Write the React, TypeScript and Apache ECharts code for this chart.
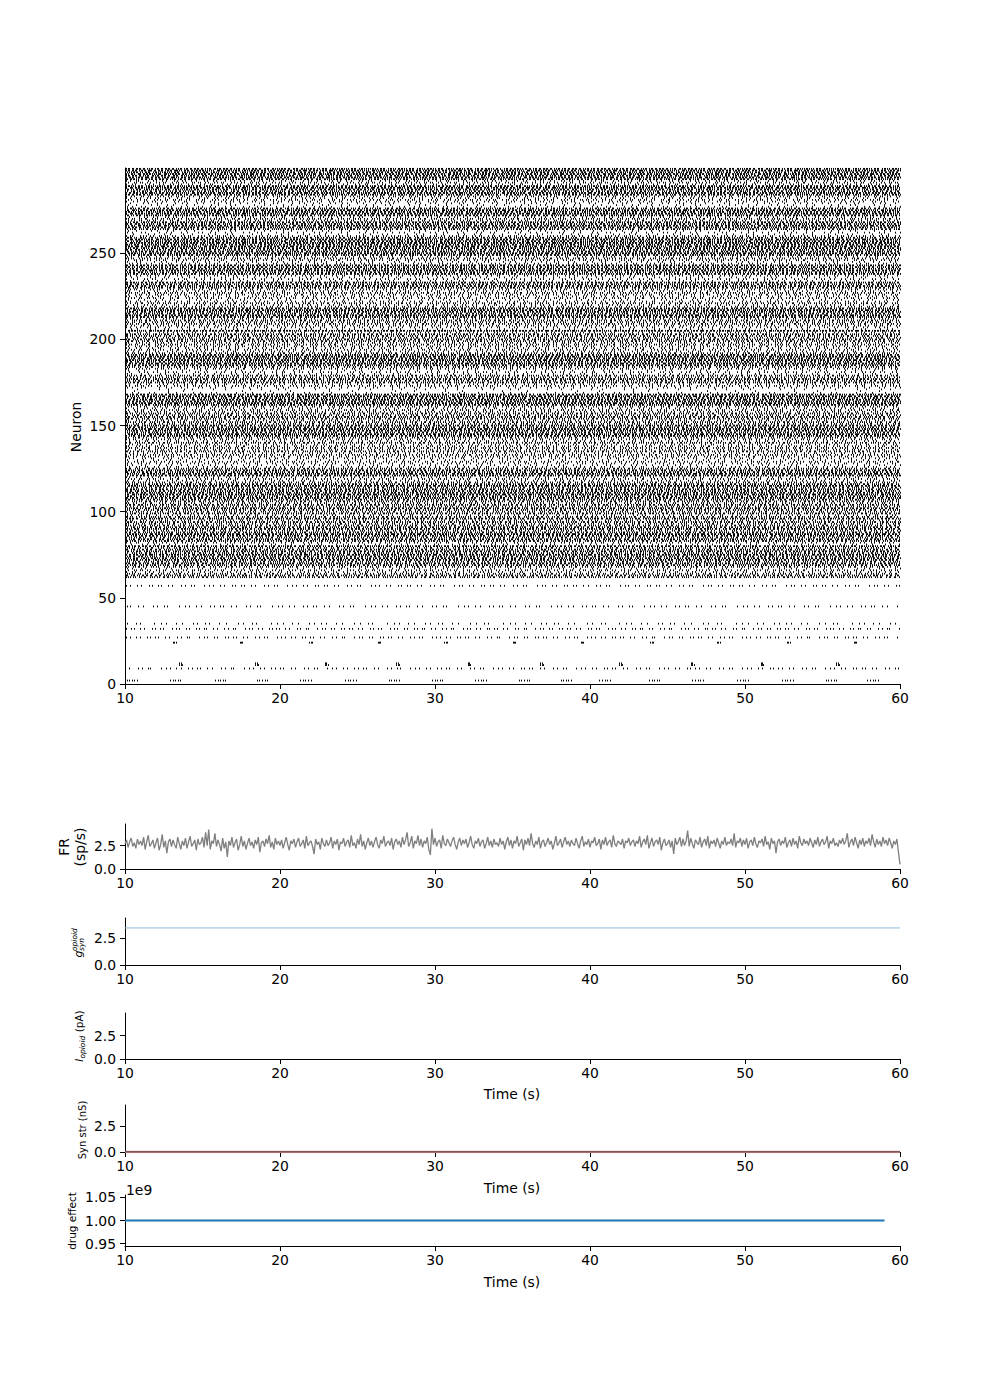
import React, { useEffect, useRef } from "react";
import * as echarts from "echarts";

const FONT = "DejaVu Sans";
const T_MIN = 10;
const T_MAX = 60;
const X_TICKS = [10, 20, 30, 40, 50, 60];
const NEURON_TICKS = [0, 50, 100, 150, 200, 250];
const PANEL_TICKS = [0, 2.5];
const DRUG_TICKS = [0.95e9, 1.0e9, 1.05e9];

// Estimated mean firing rate (Hz) of each neuron row, read from the raster density.
const RATES: number[] = [
  0, 0, 0, 0, 0, 0, 0, 0, 0, 2.8,
  0, 0, 0, 0, 0, 0, 0, 0, 0, 0,
  0, 0, 0, 0, 0, 0, 0, 3.0, 0, 0,
  0, 0, 3.2, 0, 0, 2.0, 0, 0, 0, 0,
  0, 0, 0, 0, 0, 2.5, 0, 0, 0, 0,
  0, 0, 0, 0, 0, 0, 0, 2.8, 0, 0,
  0, 0, 6, 7, 5, 3, 4, 2, 5, 7,
  8, 6, 8, 8, 7, 9, 6, 8, 7, 5,
  8, 2, 3, 7, 8, 6, 8, 9, 7, 5,
  8, 7, 6, 5, 7, 4, 8, 6, 3, 7,
  5, 6, 8, 5, 7, 4, 6, 7, 8, 7,
  9, 8, 7, 8, 6, 9, 7, 5, 3, 4,
  3, 8, 9, 7, 8, 6, 3, 2, 3, 4,
  2, 3, 4, 5, 3, 6, 4, 5, 4, 3,
  6, 3, 4, 5, 8, 9, 7, 8, 9, 7,
  8, 5, 6, 4, 6, 7, 5, 6, 4, 4,
  3, 4, 8, 9, 8, 9, 7, 9, 8, 1.5,
  0.5, 1, 2, 4, 3, 7, 6, 8, 5, 6,
  2, 3, 1.5, 4, 5, 8, 9, 7, 9, 8,
  9, 8, 5, 3, 4, 3, 4, 5, 4, 6,
  7, 5, 6, 7, 3, 9, 2, 3, 4, 5,
  5, 6, 4, 8, 9, 7, 8, 9, 8, 4,
  3, 5, 3, 2, 4, 3, 4, 5, 3, 4,
  7, 8, 7, 8, 2, 3, 2, 3, 8, 7,
  9, 8, 7, 8, 3, 2, 4, 5, 3, 8,
  9, 8, 7, 8, 9, 8, 9, 8, 9, 7,
  4, 1.5, 2, 1.5, 7, 8, 9, 7, 8, 4,
  5, 3, 8, 9, 8, 9, 7, 2, 1.5, 2,
  3, 4, 3, 4, 8, 9, 7, 8, 9, 8,
  3, 4, 3, 8, 9, 8, 9, 8, 9, 8,
];

// Relative inter-spike intervals (mean 1), cycled to give each row an irregular train.
const ISI_PATTERN = [0.55, 1.3, 0.8, 1.6, 0.7, 1.1, 0.5, 1.9, 0.9, 0.65, 1.25, 0.75, 1.4, 0.6, 1.0];

// Burst onsets (s) of the bursting cells at the bottom of the raster.
const BURST_N2 = [10.1, 12.9, 15.8, 18.5, 21.3, 24.2, 27.0, 29.8, 32.6, 35.4, 38.1, 40.6, 43.8, 46.6, 49.5, 52.4, 55.2, 57.9];
const BURST_N11 = [13.5, 18.4, 22.9, 27.5, 32.1, 36.8, 41.9, 46.5, 51.0, 55.9];
const BURST_N24 = [13.1, 17.4, 21.9, 26.3, 30.6, 35.0, 39.4, 43.9, 48.2, 52.7, 57.0];
const BURSTS = [
  { neuron: 2, starts: BURST_N2, count: 5, isi: 0.17 },
  { neuron: 11, starts: BURST_N11, count: 3, isi: 0.09 },
  { neuron: 12, starts: BURST_N11, count: 2, isi: 0.09 },
  { neuron: 24, starts: BURST_N24, count: 3, isi: 0.09 },
];

// Population firing rate (sp/s), sampled every 0.1 s from 10 s to 60 s.
const FR_START = 10;
const FR_STEP = 0.1;
const FR_VALUES = [
  2.7, 3.1, 2.3, 2.9, 3.3, 2.4, 2.8, 2.2, 3.2, 2.6,
  3.0, 2.5, 3.4, 2.1, 2.9, 3.6, 2.4, 2.7, 3.1, 2.2,
  2.8, 3.3, 2.0, 2.6, 3.7, 2.3, 3.0, 1.7, 2.9, 3.2,
  2.4, 3.1, 2.6, 2.2, 3.4, 2.7, 2.1, 3.0, 2.5, 3.3,
  2.2, 2.9, 3.5, 2.4, 2.7, 3.1, 2.0, 3.2, 2.6, 2.8,
  3.4, 2.3, 3.9, 2.5, 4.2, 2.1, 3.0, 2.7, 3.8, 2.4,
  3.1, 2.6, 1.9, 3.3, 2.2, 2.9, 1.3, 3.0, 2.5, 3.4,
  2.3, 2.8, 3.2, 2.0, 2.6, 3.5, 2.4, 3.0, 2.1, 2.7,
  3.3, 2.5, 2.9, 2.2, 3.1, 2.6, 3.4, 1.8, 2.8, 3.0,
  2.4, 3.2, 2.7, 3.6, 2.3, 2.9, 2.1, 3.3, 2.6, 3.0,
  2.5, 3.1, 2.2, 2.8, 3.4, 2.6, 2.0, 3.0, 2.7, 3.2,
  2.3, 2.9, 3.3, 2.4, 2.7, 3.1, 2.2, 3.5, 2.5, 2.8,
  3.0, 2.4, 1.6, 3.2, 2.6, 2.9, 2.1, 3.3, 2.7, 2.4,
  3.1, 2.5, 2.8, 3.4, 2.2, 3.0, 2.6, 3.2, 2.0, 2.9,
  2.7, 3.3, 2.4, 2.9, 3.1, 2.3, 3.6, 2.5, 2.8, 2.2,
  3.2, 2.6, 3.7, 2.4, 3.0, 2.1, 2.8, 3.3, 2.5, 3.0,
  2.3, 2.9, 3.4, 2.6, 2.2, 3.1, 2.7, 3.5, 2.4, 2.8,
  3.0, 2.5, 3.3, 2.1, 2.9, 3.2, 2.6, 3.0, 2.3, 3.4,
  2.6, 3.1, 3.9, 2.4, 2.8, 3.5, 2.2, 3.0, 2.7, 3.6,
  2.5, 3.2, 2.3, 3.0, 2.7, 3.4, 2.1, 1.5, 4.3, 2.6,
  3.3, 2.4, 2.9, 3.1, 2.2, 3.6, 2.7, 2.5, 3.2, 2.8,
  2.4, 3.0, 3.4, 2.6, 2.1, 2.9, 3.3, 2.5, 3.1, 2.7,
  3.2, 2.3, 2.8, 3.5, 2.6, 2.2, 3.0, 2.7, 3.3, 2.4,
  2.9, 3.1, 2.2, 2.7, 3.4, 2.5, 3.0, 2.3, 3.2, 2.6,
  2.8, 2.4, 3.3, 2.6, 3.0, 2.1, 2.9, 3.4, 2.5, 3.1,
  2.2, 3.0, 2.7, 3.5, 2.4, 2.8, 3.2, 2.0, 3.1, 2.6,
  3.3, 2.5, 3.8, 2.7, 2.3, 3.0, 2.6, 3.4, 2.2, 2.9,
  3.1, 2.4, 2.8, 3.3, 2.6, 3.0, 2.1, 2.7, 3.5, 2.5,
  2.8, 3.2, 2.3, 2.9, 3.4, 2.6, 3.0, 2.4, 3.1, 2.7,
  2.5, 3.3, 2.7, 2.2, 3.0, 3.5, 2.4, 2.9, 2.6, 3.2,
  2.3, 3.0, 2.8, 3.4, 2.5, 2.7, 3.2, 2.1, 3.1, 2.6,
  3.4, 2.5, 2.9, 3.1, 2.3, 3.6, 2.7, 2.4, 3.0, 2.8,
  2.6, 3.2, 2.2, 3.0, 2.8, 3.3, 2.5, 2.9, 3.1, 2.4,
  3.0, 2.7, 3.5, 2.3, 2.9, 3.2, 2.6, 3.6, 2.2, 2.8,
  3.3, 2.4, 2.9, 3.1, 2.6, 3.4, 2.0, 2.8, 3.2, 2.5,
  2.7, 3.1, 2.3, 3.0, 1.6, 3.3, 2.6, 2.9, 3.4, 2.4,
  3.2, 2.5, 3.0, 4.1, 2.4, 3.3, 2.7, 2.2, 3.1, 2.8,
  2.6, 3.4, 2.3, 2.9, 3.2, 2.5, 3.5, 2.2, 3.0, 2.7,
  3.1, 2.4, 3.3, 2.8, 2.2, 3.0, 2.6, 3.4, 2.5, 2.9,
  2.7, 3.2, 2.5, 3.8, 2.3, 3.0, 2.8, 3.3, 2.4, 3.1,
  2.6, 3.3, 2.2, 2.9, 3.1, 2.5, 3.4, 2.7, 2.3, 3.0,
  2.8, 3.2, 2.4, 3.5, 2.6, 2.9, 2.1, 3.3, 2.7, 3.0,
  1.7, 2.9, 3.2, 2.5, 3.0, 2.7, 3.4, 2.3, 2.8, 3.1,
  2.4, 3.3, 2.6, 3.0, 2.2, 3.5, 2.8, 2.5, 3.2, 2.7,
  3.0, 2.5, 3.3, 2.8, 2.3, 3.1, 2.6, 3.4, 2.4, 2.9,
  3.2, 2.6, 2.9, 3.5, 2.2, 3.0, 2.7, 3.3, 2.5, 2.8,
  2.4, 3.1, 2.7, 3.3, 2.6, 3.0, 3.8, 2.3, 2.9, 3.2,
  2.5, 3.4, 2.8, 2.2, 3.1, 2.6, 3.3, 2.4, 3.0, 2.7,
  3.3, 2.5, 3.7, 2.9, 2.3, 3.2, 2.6, 3.0, 2.4, 3.4,
  2.7, 3.1, 2.5, 3.3, 2.8, 2.2, 3.0, 2.6, 3.2, 1.8,
  0.5,
];

const G_T = [10, 60];
const G_V = [3.43, 3.43];
const SYN_T = [10, 60];
const SYN_V = [0, 0];
const DRUG_T = [10, 59];
const DRUG_V = [1e9, 1e9];

function spikeTimes(n: number): number[] {
  const out: number[] = [];
  for (const b of BURSTS) {
    if (b.neuron !== n) continue;
    for (const s of b.starts) for (let k = 0; k < b.count; k++) out.push(s + k * b.isi);
  }
  const r = RATES[n];
  if (r > 0) {
    const L = ISI_PATTERN.length;
    let idx = (n * 7) % L;
    let t = T_MIN + (0.5 * ISI_PATTERN[(n * 3) % L]) / r;
    while (t < T_MAX) {
      out.push(t);
      t += ISI_PATTERN[idx % L] / r;
      idx++;
    }
  }
  return out;
}

const SpikeShape = (echarts as any).graphic.extendShape({
  shape: { xs: [] as number[], y: 0, h: 1.8 },
  buildPath(ctx: any, shape: any) {
    const y0 = shape.y - shape.h / 2;
    const y1 = shape.y + shape.h / 2;
    for (const x of shape.xs) {
      ctx.moveTo(x, y0);
      ctx.lineTo(x, y1);
    }
  },
});
(echarts as any).graphic.registerShape("spikes", SpikeShape);

const LEFT = 125;
const WIDTH = 775;
const GRIDS = [
  { top: 168, height: 516 },
  { top: 824, height: 45 },
  { top: 918, height: 47 },
  { top: 1013, height: 46 },
  { top: 1105, height: 47 },
  { top: 1195, height: 51 },
];

function xAxis(i: number) {
  return {
    type: "value",
    gridIndex: i,
    min: T_MIN,
    max: T_MAX,
    interval: 10,
    axisLine: { show: true, onZero: false, lineStyle: { color: "#000", width: 1 } },
    axisTick: { show: true, length: 5, customValues: X_TICKS, lineStyle: { color: "#000", width: 1 } },
    axisLabel: { color: "#000", fontSize: 13.9, fontFamily: FONT, margin: 7, customValues: X_TICKS },
    splitLine: { show: false },
  };
}

function yAxis(i: number, min: number, max: number, ticks: number[], formatter?: (v: number) => string) {
  return {
    type: "value",
    gridIndex: i,
    min,
    max,
    axisLine: { show: true, onZero: false, lineStyle: { color: "#000", width: 1 } },
    axisTick: { show: true, length: 5, customValues: ticks, lineStyle: { color: "#000", width: 1 } },
    axisLabel: {
      color: "#000",
      fontSize: 13.9,
      fontFamily: FONT,
      margin: 9,
      customValues: ticks,
      formatter: formatter,
    },
    splitLine: { show: false },
  };
}

const oneDec = (v: number) => v.toFixed(1);

function text(x: number, y: number, str: string, size: number, extra: any = {}) {
  return {
    type: "text",
    x,
    y,
    style: {
      text: str,
      fontSize: size,
      fontFamily: FONT,
      fill: "#000",
      align: "center",
      verticalAlign: "middle",
      textAlign: "center",
      textVerticalAlign: "middle",
      ...extra,
    },
  };
}

function leftText(x: number, y: number, str: string, size: number, italic = false) {
  return {
    type: "text",
    x,
    y,
    style: {
      text: str,
      fontSize: size,
      fontFamily: FONT,
      fontStyle: italic ? "italic" : "normal",
      fill: "#000",
      align: "left",
      verticalAlign: "middle",
      textAlign: "left",
      textVerticalAlign: "middle",
    },
  };
}

export default function App() {
  const ref = useRef<HTMLDivElement>(null);
  useEffect(() => {
    if (!ref.current) return;
    const chart = echarts.init(ref.current, null, { renderer: "svg" });
    const rot = Math.PI / 2;
    const option: any = {
      animation: false,
      backgroundColor: "#fff",
      textStyle: { fontFamily: FONT },
      grid: GRIDS.map((g) => ({ left: LEFT, width: WIDTH, top: g.top, height: g.height })),
      xAxis: GRIDS.map((_, i) => xAxis(i)),
      yAxis: [
        yAxis(0, 0, 299.5, NEURON_TICKS),
        yAxis(1, 0, 4.8, PANEL_TICKS, oneDec),
        yAxis(2, 0, 4.35, PANEL_TICKS, oneDec),
        yAxis(3, 0, 4.9, PANEL_TICKS, oneDec),
        yAxis(4, 0, 4.5, PANEL_TICKS, oneDec),
        yAxis(5, 0.945e9, 1.055e9, DRUG_TICKS, (v: number) => (v / 1e9).toFixed(2)),
      ],
      series: [
        {
          type: "custom",
          xAxisIndex: 0,
          yAxisIndex: 0,
          silent: true,
          data: RATES.map((_, n) => [T_MIN, n]),
          renderItem: (_params: any, api: any) => {
            const n = api.value(1);
            const times = spikeTimes(n);
            if (!times.length) return null;
            const y = api.coord([T_MIN, n])[1];
            const xs = times.map((t) => Math.round(api.coord([t, n])[0]) + 0.5);
            return {
              type: "spikes",
              shape: { xs, y, h: 1.8 },
              style: { stroke: "#000", lineWidth: 1, fill: null },
            };
          },
        },
        {
          type: "line",
          xAxisIndex: 1,
          yAxisIndex: 1,
          showSymbol: false,
          silent: true,
          data: FR_VALUES.map((v, i) => [FR_START + i * FR_STEP, v]),
          lineStyle: { color: "#7f7f7f", width: 1.3 },
        },
        {
          type: "line",
          xAxisIndex: 2,
          yAxisIndex: 2,
          showSymbol: false,
          silent: true,
          data: G_T.map((t, i) => [t, G_V[i]]),
          lineStyle: { color: "#8fbbd9", width: 1 },
        },
        {
          type: "line",
          xAxisIndex: 3,
          yAxisIndex: 3,
          showSymbol: false,
          silent: true,
          data: [],
        },
        {
          type: "line",
          xAxisIndex: 4,
          yAxisIndex: 4,
          showSymbol: false,
          silent: true,
          data: SYN_T.map((t, i) => [t, SYN_V[i]]),
          lineStyle: { color: "#d68a8a", width: 2.5 },
        },
        {
          type: "line",
          xAxisIndex: 4,
          yAxisIndex: 4,
          showSymbol: false,
          silent: true,
          data: SYN_T.map((t, i) => [t, SYN_V[i]]),
          lineStyle: { color: "#222", width: 1 },
        },
        {
          type: "line",
          xAxisIndex: 5,
          yAxisIndex: 5,
          showSymbol: false,
          silent: true,
          data: DRUG_T.map((t, i) => [t, DRUG_V[i]]),
          lineStyle: { color: "#1f77b4", width: 2.2 },
        },
      ],
      graphic: [
        { ...text(76, 427, "Neuron", 13.9), rotation: rot },
        { ...text(72, 847, "FR\n(sp/s)", 13.9, { lineHeight: 16 }), rotation: rot },
        {
          type: "group",
          x: 78,
          y: 942,
          rotation: rot,
          children: [
            leftText(-15.5, 0, "g", 11, true),
            leftText(-9, -4, "opioid", 7.5, true),
            leftText(-9, 3.5, "syn", 7.5, true),
          ],
        },
        {
          type: "group",
          x: 79,
          y: 1036,
          rotation: rot,
          children: [
            leftText(-25.7, 0, "I", 10.5, true),
            leftText(-22.6, 3, "opioid", 7.5, true),
            leftText(0.3, 0, " (pA)", 10.5, false),
          ],
        },
        { ...text(82, 1130, "Syn str (nS)", 10), rotation: rot },
        { ...text(72, 1221, "drug effect", 10.5), rotation: rot },
        leftText(126, 1190, "1e9", 13.9),
        text(512, 1094, "Time (s)", 13.9),
        text(512, 1188, "Time (s)", 13.9),
        text(512, 1282, "Time (s)", 13.9),
      ],
    };
    chart.setOption(option);
    return () => chart.dispose();
  }, []);
  return (
    <div
      ref={ref}
      style={{ position: "absolute", left: 0, top: 0, width: 1000, height: 1400, background: "#fff" }}
    />
  );
}
